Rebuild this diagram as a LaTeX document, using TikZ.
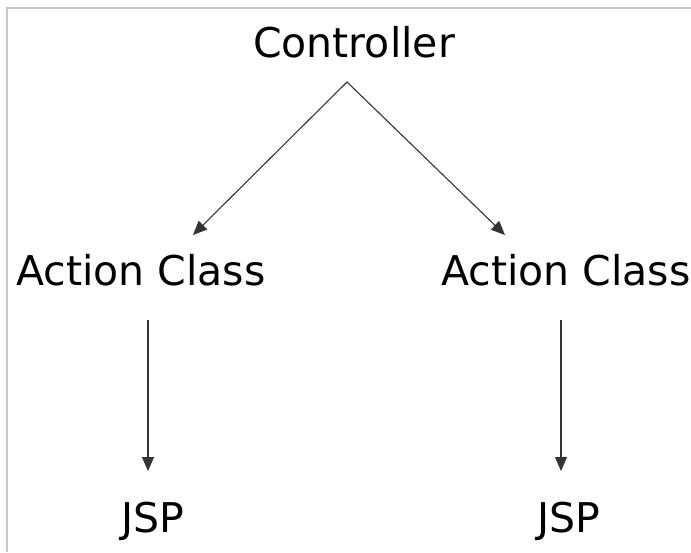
\documentclass[tikz,border=0pt]{standalone}
\usepackage{fontspec}
\setmainfont{DejaVu Sans}
\usetikzlibrary{arrows.meta,positioning}

\begin{document}
\begin{tikzpicture}[
    x=1pt, y=-1pt,
    lbl/.style={font=\fontsize{41}{41}\selectfont, inner sep=0pt, anchor=base},
    arrow/.style={-{Triangle[length=14pt,width=12pt]}, line width=1.1pt, draw=black!80},
    frame/.style={draw=black!22, line width=2pt},
]
\useasboundingbox (0,0) rectangle (691,552);

% Frame (open at right and bottom)
\draw[frame] (7,552) -- (7,8) -- (691,8);

% Top
\node[lbl] (ctrl) at (354,57) {Controller};

% Middle
\node[lbl] (actL) at (141,285) {Action Class};
\node[lbl] (actR) at (566,285) {Action Class};

% Bottom
\node[lbl] (jspL) at (153,532) {JSP};
\node[lbl] (jspR) at (569,532) {JSP};

% Arrows
\draw[arrow] ([xshift=-7pt,yshift=-25pt]ctrl.base) -- ([xshift=52pt,yshift=50pt]actL.base);
\draw[arrow] ([xshift=-7pt,yshift=-25pt]ctrl.base) -- ([xshift=-61pt,yshift=50pt]actR.base);
\draw[arrow] ([xshift=7pt,yshift=-35pt]actL.base) -- ([xshift=-5pt,yshift=61pt]jspL.base);
\draw[arrow] ([xshift=-5pt,yshift=-35pt]actR.base) -- ([xshift=-8pt,yshift=61pt]jspR.base);

\end{tikzpicture}
\end{document}
